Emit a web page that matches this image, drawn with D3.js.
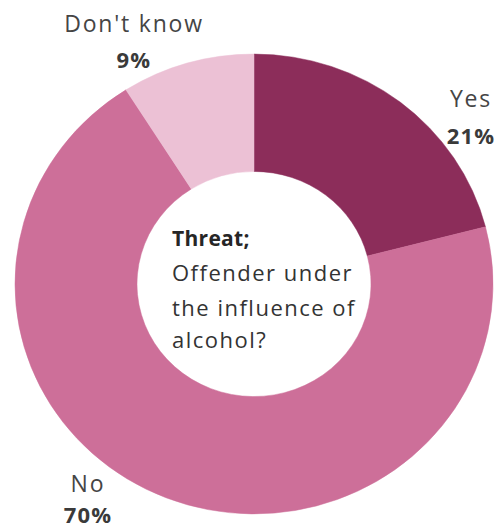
<!DOCTYPE html>
<html>
<head>
<meta charset="utf-8">
<script src="https://cdn.jsdelivr.net/npm/d3@7"></script>
<style>
  html, body { margin: 0; padding: 0; background: #fff; }
  svg { display: block; }
  text { font-family: "Open Sans", "Noto Sans", sans-serif; }
</style>
</head>
<body>
<svg id="chart" width="502" height="531"></svg>
<script>
// Answers to: offender under the influence of alcohol?
const categories = ["Yes", "No", "Don't know"];
const values = [21, 70, 9];
const valueLabels = ["21%", "70%", "9%"];
const colors = ["#8c2d5a", "#cd6f99", "#ecc1d5"];
const centerTitle = "Threat;";
const centerLines = ["Offender under", "the influence of", "alcohol?"];

const data = categories.map((c, i) => ({ name: c, value: values[i], label: valueLabels[i], color: colors[i] }));

const svg = d3.select("#chart");
const cx = 254, cy = 284, squash = 0.962;
const outerR = 239, innerR = 117;

const pie = d3.pie().sort(null).value(d => d.value).startAngle(0).endAngle(2 * Math.PI);
const arc = d3.arc().innerRadius(innerR).outerRadius(outerR);

const ring = svg.append("g").attr("transform", `translate(${cx},${cy}) scale(1,${squash})`);
ring.selectAll("path")
  .data(pie(data))
  .join("path")
  .attr("d", arc)
  .attr("fill", d => d.data.color)
  .attr("stroke", d => d.data.color)
  .attr("stroke-width", 0.5);

// Slice labels placed outside the ring
const labelPos = {
  "Yes": { x: 471, y1: 107, y2: 144 },
  "No": { x: 88, y1: 492, y2: 523 },
  "Don't know": { x: 134, y1: 32, y2: 68 }
};
const labels = svg.append("g").selectAll("g").data(data).join("g");
labels.append("text")
  .attr("x", d => labelPos[d.name].x)
  .attr("y", d => labelPos[d.name].y1)
  .attr("text-anchor", "middle")
  .attr("font-size", 23)
  .attr("letter-spacing", 1.8)
  .attr("fill", "#454545")
  .text(d => d.name);
labels.append("text")
  .attr("x", d => labelPos[d.name].x)
  .attr("y", d => labelPos[d.name].y2)
  .attr("text-anchor", "middle")
  .attr("font-size", 22)
  .attr("font-weight", "bold")
  .attr("letter-spacing", 1.2)
  .attr("fill", "#3a3a3a")
  .text(d => d.label);

// Question text in the hole
const center = svg.append("g");
center.append("text")
  .attr("x", 172).attr("y", 246)
  .attr("font-size", 21)
  .attr("font-weight", "bold")
  .attr("letter-spacing", 0.3)
  .attr("fill", "#262626")
  .text(centerTitle);
const lineY = [281, 316, 348];
center.selectAll("text.line")
  .data(centerLines)
  .join("text")
  .attr("class", "line")
  .attr("x", 172)
  .attr("y", (d, i) => lineY[i])
  .attr("font-size", 22)
  .attr("letter-spacing", 1.5)
  .attr("fill", "#333")
  .text(d => d);
</script>
</body>
</html>
